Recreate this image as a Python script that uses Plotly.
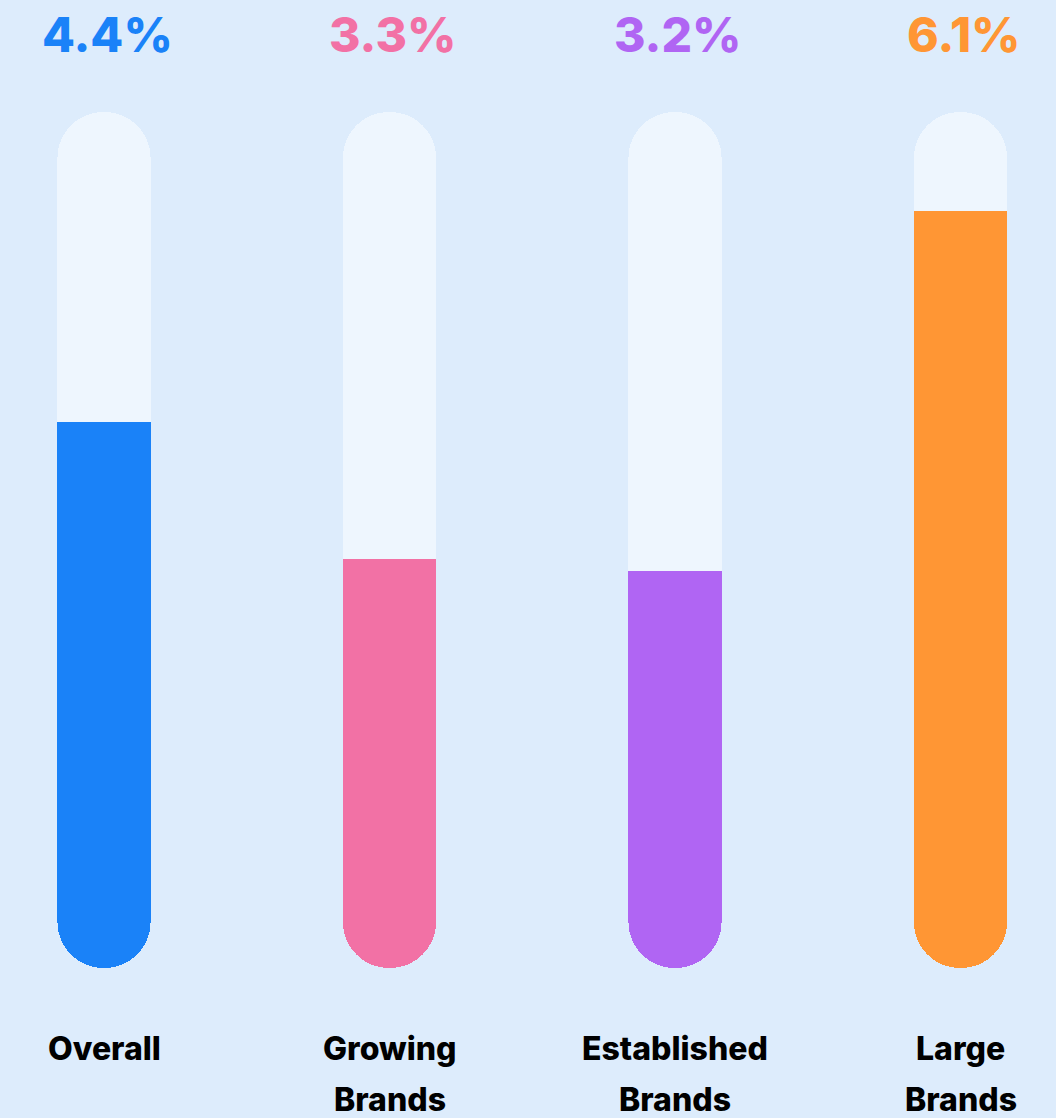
import plotly.graph_objects as go

categories = ["Overall", "Growing\nBrands", "Established\nBrands", "Large\nBrands"]
values = [4.4, 3.3, 3.2, 6.1]
value_labels = ["4.4%", "3.3%", "3.2%", "6.1%"]
colors = ["#1A82F8", "#F271A5", "#B065F3", "#FF9634"]
track_max = 6.9

BG = "#DDECFC"
TRACK = "#EEF6FE"
FONT = "Inter"

x = list(range(len(categories)))
bar_w = 0.326
n = len(x)

# The (hidden) value axis runs downward from the top of the track (0) to its
# bottom (-track_max), so that a stacked fill rounds only its bottom end.
fig = go.Figure()
# track: full pill (bars with a base are drawn overlaid, all corners rounded)
fig.add_trace(go.Bar(x=x, y=[track_max] * n, base=[-track_max] * n, width=bar_w,
                     marker=dict(color=TRACK, cornerradius="50%", line=dict(width=0)),
                     hoverinfo="skip", showlegend=False))
# empty part of the track (transparent spacer in the stack)
fig.add_trace(go.Bar(x=x, y=[-(track_max - v) for v in values], width=bar_w,
                     marker=dict(color="rgba(0,0,0,0)", line=dict(width=0)),
                     hoverinfo="skip", showlegend=False))
# filled value, outermost in the stack -> rounded bottom, flat top
fig.add_trace(go.Bar(x=x, y=[-v for v in values], width=bar_w,
                     marker=dict(color=colors, cornerradius="50%", line=dict(width=0)),
                     hoverinfo="skip", showlegend=False))

for i, (lab, col) in enumerate(zip(value_labels, colors)):
    fig.add_annotation(x=i, y=1.091, xref="x", yref="paper", text=lab, showarrow=False,
                       xanchor="center", yanchor="middle", xshift=3,
                       font=dict(family=FONT, size=48, color=col, weight=800))

for i, cat in enumerate(categories):
    for j, line in enumerate(cat.split("\n")):
        fig.add_annotation(x=i, y=-0.094 - j * 0.06, xref="x", yref="paper", text=line,
                           showarrow=False, xanchor="center", yanchor="middle",
                           font=dict(family=FONT, size=32, color="#000000", weight=800))

fig.update_layout(
    width=1056, height=1118,
    margin=dict(l=0, r=0, t=112, b=150, pad=0),
    barmode="stack",
    paper_bgcolor=BG, plot_bgcolor=BG,
    xaxis=dict(range=[-0.3643, 3.3345], visible=False, fixedrange=True),
    yaxis=dict(range=[-track_max, 0], visible=False, fixedrange=True),
    showlegend=False,
)

fig.write_html("out.html", config={"displayModeBar": False},
               post_script="document.body.style.margin='0';document.body.style.overflow='hidden';")
